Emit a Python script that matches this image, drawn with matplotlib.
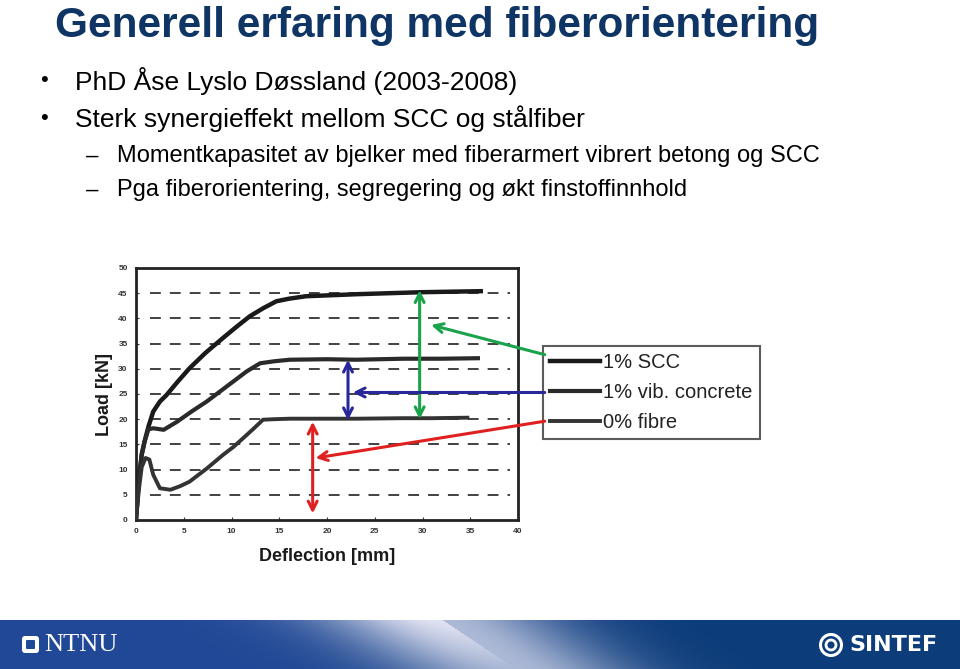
import numpy as np
import matplotlib.pyplot as plt
from matplotlib.patches import FancyBboxPatch, Circle

plt.rcParams['font.family'] = ['Liberation Sans', 'DejaVu Sans']

# slide text
title = "Generell erfaring med fiberorientering"
bullets = ["PhD Åse Lyslo Døssland (2003-2008)",
           "Sterk synergieffekt mellom SCC og stålfiber"]
subbullets = ["Momentkapasitet av bjelker med fiberarmert vibrert betong og SCC",
              "Pga fiberorientering, segregering og økt finstoffinnhold"]

# load-deflection curves
scc_x = [0, 0.3, 0.6, 0.9, 1.3, 1.8, 2.5, 3.2, 4.3, 5.6, 7.3, 9.1, 10.5, 11.9, 13.3, 14.7, 16.0, 17.8, 20.5, 23.1, 26.5, 30.0, 33.0, 36.1]
scc_y = [0, 8.0, 13.0, 15.6, 18.5, 21.5, 23.5, 24.8, 27.3, 30.1, 33.2, 36.1, 38.3, 40.4, 42.0, 43.4, 43.9, 44.4, 44.6, 44.8, 45.0, 45.2, 45.3, 45.4]
vib_x = [0, 0.3, 0.6, 0.9, 1.3, 1.8, 2.9, 4.3, 5.8, 7.4, 8.8, 10.2, 11.6, 13.0, 14.5, 16.1, 20.0, 23.0, 28.0, 32.0, 35.8]
vib_y = [0, 8.0, 13.0, 15.6, 18.0, 18.2, 17.9, 19.5, 21.5, 23.5, 25.5, 27.5, 29.5, 31.1, 31.5, 31.8, 31.9, 31.8, 32.0, 32.0, 32.1]
fib_x = [0, 0.3, 0.6, 1.0, 1.4, 1.8, 2.5, 3.6, 4.6, 5.6, 7.4, 9.1, 10.2, 11.2, 12.3, 13.3, 14.5, 16.1, 20.0, 23.1, 28.0, 31.0, 34.7]
fib_y = [0, 6.0, 10.5, 12.3, 12.0, 9.0, 6.3, 6.0, 6.7, 7.6, 10.2, 12.9, 14.5, 16.2, 18.1, 19.9, 20.0, 20.1, 20.1, 20.1, 20.2, 20.2, 20.3]
series_labels = ["1% SCC", "1% vib. concrete", "0% fibre"]

x_ticks = [0, 5, 10, 15, 20, 25, 30, 35, 40]
y_ticks = [0, 5, 10, 15, 20, 25, 30, 35, 40, 45, 50]
grid_levels = [5, 10, 15, 20, 25, 30, 35, 40, 45]

fig = plt.figure(figsize=(9.6, 6.69), dpi=100)
fig.patch.set_facecolor('white')

# title and bullets
fig.text(55 / 960, 1 - 37 / 669, title, fontsize=30.5, fontweight='bold',
         color='#0f3565', va='baseline', ha='left')
for i, b in enumerate(bullets):
    y = 1 - (81 + 38 * i) / 669
    fig.text(40 / 960, y, "•", fontsize=16, va='center', ha='left')
    fig.text(75 / 960, y, b, fontsize=19, va='center', ha='left')
for i, b in enumerate(subbullets):
    y = 1 - (156 + 34 * i) / 669
    fig.text(86 / 960, y, "–", fontsize=16, va='center', ha='left')
    fig.text(117 / 960, y, b, fontsize=17, va='center', ha='left')

# chart
ax = fig.add_axes([136 / 960, 1 - 520 / 669, 382 / 960, 252 / 669])
ax.hlines(grid_levels, 1.5, 39.2, colors='#333333', linestyles=(0, (6, 5)), lw=1.3, zorder=1)
ax.plot(scc_x, scc_y, color='#1a1a1a', lw=3.2, label=series_labels[0], zorder=3)
ax.plot(vib_x, vib_y, color='#2a2a2a', lw=3.0, label=series_labels[1], zorder=3)
ax.plot(fib_x, fib_y, color='#333333', lw=2.8, label=series_labels[2], zorder=3)
ax.set_xlim(0, 40)
ax.set_ylim(0, 50)
ax.set_xticks(x_ticks)
ax.set_yticks(y_ticks)
ax.tick_params(labelsize=6, length=2, direction='in', colors='#333333', pad=6)
for lab in ax.get_xticklabels() + ax.get_yticklabels():
    lab.set_fontweight('bold')
for s in ax.spines.values():
    s.set_linewidth(2)
    s.set_color('#222222')
ax.set_xlabel("Deflection [mm]", fontsize=13, fontweight='bold', color='#1a1a1a', labelpad=9)
ax.set_ylabel("Load [kN]", fontsize=13, fontweight='bold', color='#1a1a1a', labelpad=4)

leg = ax.legend(loc='upper left', bbox_to_anchor=(1.065, 0.69), fontsize=14.5,
                frameon=True, fancybox=False, edgecolor='#333333', handlelength=2.5,
                handletextpad=0.15, labelspacing=0.55, borderpad=0.35, borderaxespad=0)
leg.get_frame().set_linewidth(1.5)
for t in leg.get_texts():
    t.set_color('#222222')

# arrows
def arrow(x0, y0, x1, y1, color, style):
    ax.annotate("", xy=(x1, y1), xytext=(x0, y0), xycoords='data',
                annotation_clip=False,
                arrowprops=dict(arrowstyle=style, color=color, lw=2.2,
                                mutation_scale=16, shrinkA=0, shrinkB=0), zorder=6)

arrow(29.7, 20.0, 29.7, 45.6, '#1aa34a', '<->')
arrow(42.8, 32.8, 30.9, 38.7, '#1aa34a', '->')
arrow(22.2, 19.8, 22.2, 31.8, '#28289a', '<->')
arrow(42.8, 25.3, 22.7, 25.3, '#28289a', '->')
arrow(18.5, 1.3, 18.5, 19.5, '#e02020', '<->')
arrow(42.8, 19.6, 18.8, 12.3, '#e02020', '->')

# bottom banner
bax = fig.add_axes([0, 0, 1, 49 / 669])
xx, yy = np.meshgrid(np.arange(960.0), np.arange(49.0))
left = np.array([32, 72, 150]) / 255
right = np.array([12, 60, 122]) / 255
t = np.clip((xx - 250) / 450, 0, 1)[..., None]
img = left * (1 - t) + right * t
edge = 443 + (yy / 48) * 72
d = xx - edge
w = np.where(d < 0, np.exp(-(d / 120) ** 2) * (0.95 - 0.25 * yy / 48),
             0.7 * np.exp(-(d / 110) ** 2))
lav = np.array([236, 236, 248]) / 255
img = img * (1 - w[..., None]) + lav * w[..., None]
bax.imshow(img, aspect='auto', extent=(0, 960, 0, 49), origin='upper')
bax.set_xlim(0, 960)
bax.set_ylim(0, 49)
bax.axis('off')
bax.add_patch(FancyBboxPatch((22, 16), 17, 17, boxstyle='round,pad=0,rounding_size=3',
                             fc='white', ec='none'))
bax.add_patch(FancyBboxPatch((26, 20), 9, 9, boxstyle='round,pad=0,rounding_size=1',
                             fc='#1f4a96', ec='none'))
bax.text(44, 24, "NTNU", family='Liberation Serif', fontsize=19, color='white',
         va='center', ha='left')
bax.add_patch(Circle((831, 24), 10.5, fc='none', ec='white', lw=2.2))
bax.add_patch(Circle((831, 24), 5, fc='none', ec='white', lw=2))
bax.text(849, 24, "SINTEF", family='DejaVu Sans', fontsize=16, fontweight='bold',
         color='white', va='center', ha='left')

fig.savefig('out.png', dpi=100)
